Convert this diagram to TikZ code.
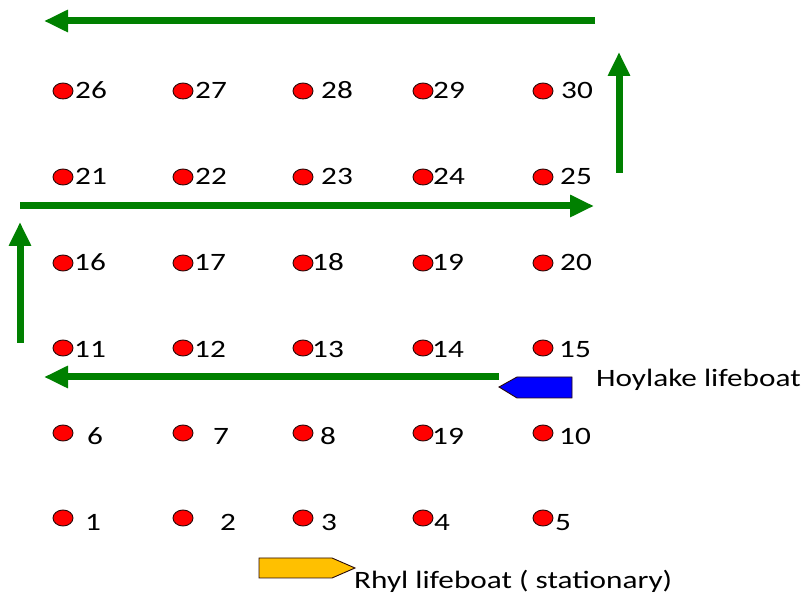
\documentclass[tikz,border=0pt]{standalone}
\usepackage{fontspec}
\setmainfont{Carlito}[FakeStretch=1.25]
\usetikzlibrary{shapes.geometric,arrows.meta}
\definecolor{arrowgreen}{RGB}{0,128,0}
\definecolor{boatblue}{RGB}{0,0,255}
\definecolor{boatgold}{RGB}{255,192,0}
\definecolor{dotred}{RGB}{255,0,0}
\definecolor{inkdark}{RGB}{40,10,10}
\tikzset{
  dotmark/.style={ellipse, minimum width=20pt, minimum height=16pt, inner sep=0pt,
    fill=dotred, draw=inkdark, line width=0.9pt},
  numlabel/.style={anchor=base west, inner sep=0pt, font=\fontsize{25}{30}\selectfont},
  flow/.style={draw=arrowgreen, line width=7pt, -{Triangle[length=24pt,width=21pt]}},
  boatline/.style={draw=inkdark, line width=0.9pt, line join=miter},
  boattext/.style={anchor=base west, inner sep=0pt, font=\fontsize{25}{30}\selectfont}
}
\begin{document}
\begin{tikzpicture}[x=1pt,y=-1pt]
\useasboundingbox (0,0) rectangle (807,601);
% arrows
\coordinate (a1s) at (595,21);  \coordinate (a1e) at (44,21);
\coordinate (a2s) at (619,173); \coordinate (a2e) at (619,52);
\coordinate (a3s) at (20,206);  \coordinate (a3e) at (594,206);
\coordinate (a4s) at (20,343);  \coordinate (a4e) at (20,222);
\coordinate (a5s) at (499,377); \coordinate (a5e) at (44,377);
\draw[flow] (a1s) -- (a1e);
\draw[flow] (a2s) -- (a2e);
\draw[flow] (a3s) -- (a3e);
\draw[flow] (a4s) -- (a4e);
\draw[flow] (a5s) -- (a5e);
% dots and labels
\foreach \n/\t/\dx/\dy/\lx/\ly in {
26/26/63/91/75/99, 27/27/183/91/195/99, 28/28/303/91/321/99, 29/29/423/91/433/99, 30/30/543/91/561/99,
21/21/63/177/75/185, 22/22/183/177/195/185, 23/23/303/177/321/185, 24/24/423/177/433/185, 25/25/543/177/560/185,
16/16/63/263/74/271, 17/17/183/263/194/271, 18/18/303/263/312/271, 19/19/423/263/432/271, 20/20/543/263/560/271,
11/11/63/348/74/358, 12/12/183/348/194/358, 13/13/303/348/312/358, 14/14/423/348/432/358, 15/15/543/348/559/358,
6/6/63/433/87/445, 7/7/183/433/213/445, 8/8/303/433/320/445, 9/19/423/433/432/445, 10/10/543/433/559/445,
1/1/63/518/85/531, 2/2/183/518/220/531, 3/3/303/518/321/531, 4/4/423/518/434/531, 5/5/543/518/555/531}
{
  \node[dotmark] (d\n) at (\dx,\dy) {};
  \node[numlabel] (l\n) at (\lx,\ly) {\t};
}
% boats
\draw[boatline, fill=boatblue] (499,387) -- (517,377) -- (572,377) -- (572,398) -- (517,398) -- cycle;
\draw[boatline, fill=boatgold] (259,558) -- (332,558) -- (355,568) -- (332,578) -- (259,578) -- cycle;
\node[boattext] (hoy) at (596,387) {Hoylake lifeboat};
\node[boattext] (rhyl) at (354,589) {Rhyl lifeboat ( stationary)};
\end{tikzpicture}
\end{document}
